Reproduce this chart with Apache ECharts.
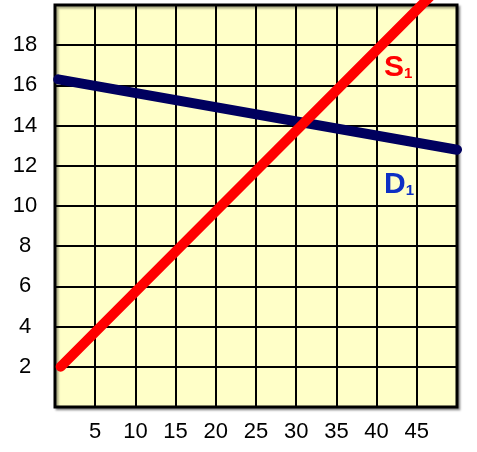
<!DOCTYPE html>
<html>
<head>
<meta charset="utf-8">
<script src="https://cdn.jsdelivr.net/npm/echarts@6/dist/echarts.min.js"></script>
<style>html,body{margin:0;padding:0;background:#fff;}#c{width:477px;height:452px;}</style>
</head>
<body>
<div id="c"></div>
<script>
// Data
const xTicks = [5, 10, 15, 20, 25, 30, 35, 40, 45];
const yTicks = [2, 4, 6, 8, 10, 12, 14, 16, 18];
const supplyS1 = [[0.7, 2.0], [46.6, 20.4]];
const demandD1 = [[0.4, 16.3], [50, 12.8]];
const lineLabels = ['S', 'D'];

const chart = echarts.init(document.getElementById('c'), null, {renderer: 'canvas'});
const font = '"Liberation Sans", Arial, sans-serif';
chart.setOption({
  animation: false,
  grid: {
    left: 55, top: 5, width: 402, height: 402,
    show: true, backgroundColor: '#ffffc8', borderColor: '#000', borderWidth: 3,
    shadowColor: 'rgba(0,0,0,0.35)', shadowBlur: 2, shadowOffsetX: 2, shadowOffsetY: 2
  },
  xAxis: {
    type: 'value', min: 0, max: 50, interval: 5,
    axisLine: {show: false}, axisTick: {show: false},
    splitLine: {show: true, lineStyle: {color: '#000', width: 2}},
    axisLabel: {
      fontFamily: font, fontSize: 22, color: '#000', margin: 14,
      formatter: v => xTicks.includes(v) ? String(v) : ''
    }
  },
  yAxis: {
    type: 'value', min: 0, max: 20, interval: 2,
    axisLine: {show: false}, axisTick: {show: false},
    splitLine: {show: true, lineStyle: {color: '#000', width: 2}},
    axisLabel: {
      fontFamily: font, fontSize: 22, color: '#000', margin: 30, align: 'center',
      formatter: v => yTicks.includes(v) ? String(v) : ''
    }
  },
  series: [
    {
      type: 'line', data: demandD1, symbol: 'none', clip: false,
      lineStyle: {color: '#00005e', width: 10, cap: 'round'}, z: 3
    },
    {
      type: 'line', data: supplyS1, symbol: 'none', clip: true,
      lineStyle: {color: '#ff0000', width: 10, cap: 'round'}, z: 4
    }
  ],
  graphic: [
    {
      type: 'text', left: 384, top: 53, z: 10,
      style: {
        rich: {
          a: {fontFamily: font, fontSize: 30, fontWeight: 'bold', fill: '#ff0000', verticalAlign: 'bottom'},
          b: {fontFamily: font, fontSize: 15, fontWeight: 'bold', fill: '#ff0000', verticalAlign: 'bottom', padding: [0,0,2,0]}
        },
        text: '{a|' + lineLabels[0] + '}{b|1}'
      }
    },
    {
      type: 'text', left: 384, top: 170, z: 10,
      style: {
        rich: {
          a: {fontFamily: font, fontSize: 30, fontWeight: 'bold', fill: '#0d2fc4', verticalAlign: 'bottom'},
          b: {fontFamily: font, fontSize: 15, fontWeight: 'bold', fill: '#0d2fc4', verticalAlign: 'bottom', padding: [0,0,2,0]}
        },
        text: '{a|' + lineLabels[1] + '}{b|1}'
      }
    }
  ]
});
</script>
</body>
</html>
